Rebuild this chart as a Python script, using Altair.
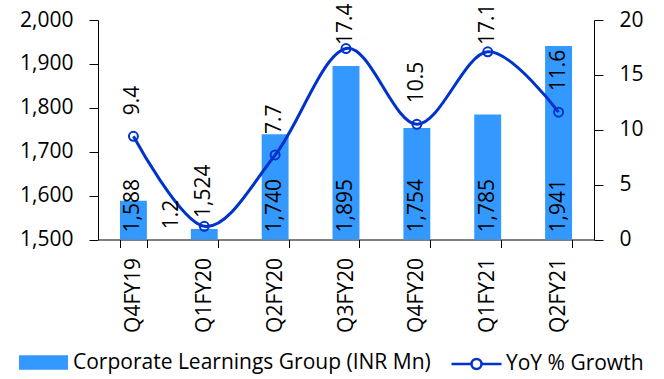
import altair as alt
import pandas as pd

# Quarterly revenue of the corporate learning segment and its YoY growth
quarters = ["Q4FY19", "Q1FY20", "Q2FY20", "Q3FY20", "Q4FY20", "Q1FY21", "Q2FY21"]
revenue = [1588, 1524, 1740, 1895, 1754, 1785, 1941]
growth = [9.4, 1.2, 7.7, 17.4, 10.5, 17.1, 11.6]

BAR_NAME = "Corporate Learnings Group (INR Mn)"
LINE_NAME = "YoY % Growth"
BAR_COLOR = "#3399FF"
LINE_COLOR = "#0033CC"
FONT = "Open Sans"
FS = 21

df = pd.DataFrame({
    "quarter": quarters,
    "revenue": revenue,
    "growth": growth,
    "bar_series": [BAR_NAME] * len(quarters),
    "line_series": [LINE_NAME] * len(quarters),
})

W, H = 496, 219.5

x = alt.X(
    "quarter:N",
    sort=quarters,
    title=None,
    scale=alt.Scale(paddingInner=0.62, paddingOuter=0.31),
    axis=alt.Axis(labelAngle=270, labelPadding=10, tickSize=8, tickBand="extent"),
)

rev_scale = alt.Scale(domain=[1500, 2000], zero=False)
gr_scale = alt.Scale(domain=[0, 20])

base = alt.Chart(df)

bars = base.mark_bar().encode(
    x=x,
    y=alt.Y(
        "revenue:Q",
        scale=rev_scale,
        title=None,
        axis=alt.Axis(values=[1500, 1600, 1700, 1800, 1900, 2000], format=",.0f",
                      tickSize=9, labelPadding=16),
    ),
    y2=alt.datum(1500),
    fill=alt.Fill(
        "bar_series:N",
        scale=alt.Scale(domain=[BAR_NAME], range=[BAR_COLOR]),
        legend=alt.Legend(
            orient="none", legendX=-79, legendY=318, title=None,
            symbolType="M-1,-0.3H1V0.3H-1Z", symbolSize=2401,
            symbolStrokeWidth=0, labelOffset=5, padding=0, labelLimit=600,
        ),
    ),
)

# values written at the base of each bar
bar_text_base = base.transform_filter("datum.revenue >= 1550").mark_text(
    angle=270, align="left", baseline="middle", dx=7, font=FONT, fontSize=FS, color="black"
).encode(x=x, y=alt.datum(1500), text=alt.Text("revenue:Q", format=",.0f"))

# short bar: value written just above it
bar_text_top = base.transform_filter("datum.revenue < 1550").mark_text(
    angle=270, align="left", baseline="middle", dx=11, font=FONT, fontSize=FS, color="black"
).encode(x=x, y=alt.Y("revenue:Q", scale=rev_scale), text=alt.Text("revenue:Q", format=",.0f"))

left = alt.layer(bars, bar_text_base, bar_text_top)

line = base.mark_line(interpolate="cardinal", strokeWidth=3).encode(
    x=x,
    y=alt.Y(
        "growth:Q",
        scale=gr_scale,
        title=None,
        axis=alt.Axis(orient="right", values=[0, 5, 10, 15, 20], tickSize=9, labelPadding=16),
    ),
    stroke=alt.Stroke(
        "line_series:N",
        scale=alt.Scale(domain=[LINE_NAME], range=[LINE_COLOR]),
        legend=alt.Legend(
            orient="none", legendX=352, legendY=317.5, title=None,
            symbolType="M-1,0H-0.2M0.2,0H1M-0.2,0A0.2,0.2,0,1,0,0.2,0A0.2,0.2,0,1,0,-0.2,0",
            symbolSize=2500, symbolStrokeWidth=2.5, symbolFillColor="white",
            labelOffset=3, padding=0, labelLimit=600,
        ),
    ),
)

points = base.mark_point(filled=False, size=80, strokeWidth=2, color=LINE_COLOR, opacity=1).encode(
    x=x, y=alt.Y("growth:Q", scale=gr_scale)
)

# growth labels above the points, kept inside the chart at the top
growth_text = base.transform_filter("datum.growth >= 5").transform_calculate(
    lab="min(datum.growth + 1.91, 17.72)"
).mark_text(
    angle=270, align="left", baseline="middle", font=FONT, fontSize=FS, color="black"
).encode(x=x, y=alt.Y("lab:Q", scale=gr_scale), text=alt.Text("growth:Q", format=".1f"))

growth_text_side = base.transform_filter("datum.growth < 5").mark_text(
    angle=270, align="left", baseline="middle", dx=-3, dy=-32, font=FONT, fontSize=FS, color="black"
).encode(x=x, y=alt.Y("growth:Q", scale=gr_scale), text=alt.Text("growth:Q", format=".1f"))

right = alt.layer(line, points, growth_text, growth_text_side)

chart = (
    alt.layer(left, right)
    .resolve_scale(y="independent")
    .properties(
        width=W,
        height=H,
        padding={"left": 98, "top": 20, "right": 70, "bottom": 139.5},
        autosize=alt.AutoSizeParams(type="none"),
        background="white",
    )
    .configure_view(stroke=None)
    .configure_axis(
        grid=False,
        domainColor="black",
        tickColor="black",
        domainWidth=1,
        tickWidth=1,
        labelFont=FONT,
        labelFontSize=FS,
        labelColor="black",
    )
    .configure_legend(labelFont=FONT, labelFontSize=FS, labelColor="black")
)

chart.save("out.html", embed_options={"renderer": "svg", "actions": False})
